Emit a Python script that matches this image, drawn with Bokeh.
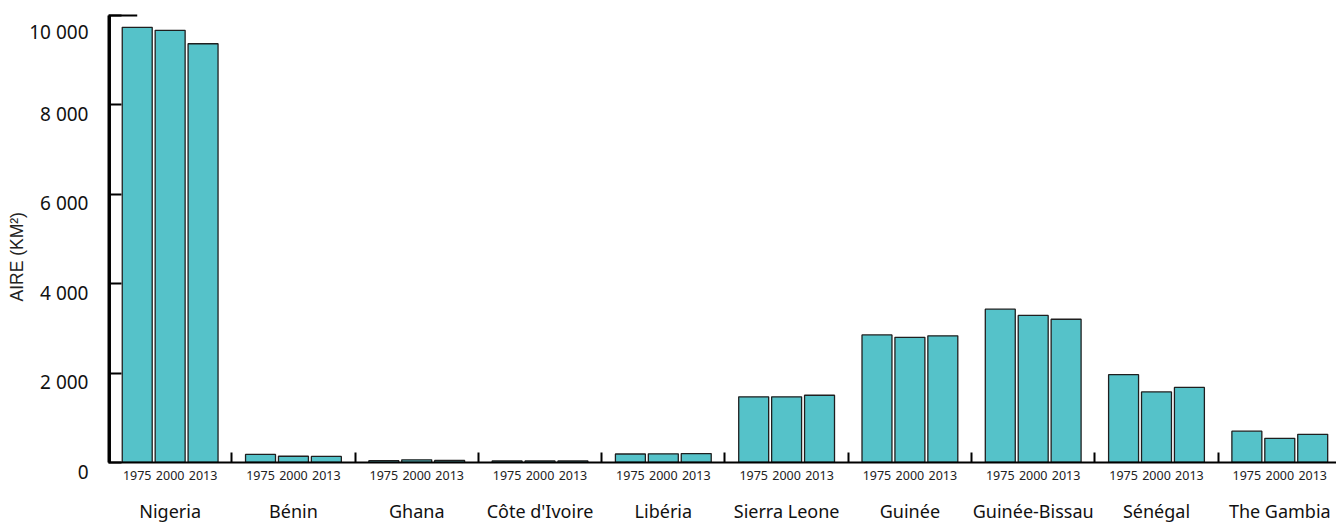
import numpy as np
from bokeh.plotting import figure
from bokeh.models import (ColumnDataSource, Range1d, FixedTicker, LinearAxis,
                          CustomJSTickFormatter, Title)
from bokeh.embed import file_html
from bokeh.resources import INLINE

countries = ["Nigeria", "Bénin", "Ghana", "Côte d'Ivoire", "Libéria", "Sierra Leone",
             "Guinée", "Guinée-Bissau", "Sénégal", "The Gambia"]
years = ["1975", "2000", "2013"]
v1975 = [9735, 180, 40, 35, 190, 1470, 2855, 3430, 1965, 700]
v2000 = [9668, 140, 60, 35, 195, 1470, 2800, 3290, 1580, 540]
v2013 = [9368, 135, 45, 35, 200, 1505, 2835, 3205, 1680, 630]
series = [v1975, v2000, v2013]
ytick_values = [0, 2000, 4000, 6000, 8000, 10000]
ytick_labels = ["0", "2 000", "4 000", "6 000", "8 000", "10 000"]
ylabel = "AIRE (KM²)"

FONT = "Noto Sans"
BAR = "#55C2C9"
PITCH = 0.267   # dodge between bars within a group (group width = 1)
BW = 0.243

p = figure(width=1336, height=525, output_backend="svg", toolbar_location=None,
           x_range=Range1d(0, 9.96), y_range=Range1d(0, 10336),
           min_border_left=108, min_border_right=0, min_border_top=0,
           x_axis_type=None, y_axis_type=None)
p.outline_line_color = None
p.xgrid.visible = False
p.ygrid.visible = False

gidx = np.arange(len(countries))
xs, tops = [], []
for k, vals in enumerate(series):
    xs.extend(list(gidx + 0.5 + (k - 1) * PITCH))
    tops.extend(vals)
src = ColumnDataSource(dict(x=xs, top=tops))
p.vbar(x="x", top="top", bottom=0, width=BW, source=src,
       fill_color=BAR, line_color="#1f1f1f", line_width=1.3)

# value-axis line drawn just inside the frame, and its top end
ymax = ytick_values[-1]
edge = 0.012
p.segment(x0=[edge], y0=[0], x1=[edge], y1=[ymax], line_color="black", line_width=2)
p.segment(x0=[0], y0=[ymax], x1=[0.5 - PITCH], y1=[ymax],
          line_color="black", line_width=2)

# y axis: labels hang just below their ticks
yax = LinearAxis(ticker=FixedTicker(ticks=ytick_values),
                 major_label_overrides={v: "\n" + s for v, s in zip(ytick_values, ytick_labels)},
                 bounds=(0, ymax))
yax.axis_line_color = "black"
yax.axis_line_width = 2
yax.major_tick_in = 13
yax.major_tick_out = 0
yax.major_tick_line_width = 2
yax.minor_tick_line_color = None
yax.major_label_standoff = 20
yax.major_label_text_font = FONT
yax.major_label_text_font_size = "19px"
yax.major_label_text_line_height = 0.7
yax.major_label_text_color = "#111111"
p.add_layout(yax, "left")

# vertical axis title, starting low like the original
ytitle = Title(text=ylabel, align="left", offset=161, standoff=0,
               text_font="Liberation Sans", text_font_size="17.5px",
               text_font_style="normal", text_color="#222222")
p.add_layout(ytitle, "left")

# year axis with group separator ticks
bar_centers = sorted(xs)
seps = list(gidx[1:].astype(float))
xax = LinearAxis(ticker=FixedTicker(ticks=bar_centers, minor_ticks=seps),
                 formatter=CustomJSTickFormatter(args=dict(years=years),
                                                 code="return years[index % 3];"))
xax.axis_line_color = "black"
xax.axis_line_width = 2
xax.major_tick_line_color = None
xax.minor_tick_in = 10
xax.minor_tick_out = 0
xax.minor_tick_line_width = 2
xax.minor_tick_line_color = "black"
xax.major_label_standoff = 2
xax.major_label_text_font = FONT
xax.major_label_text_font_size = "12.5px"
xax.major_label_text_color = "#222222"
p.add_layout(xax, "below")

# country axis
cax = LinearAxis(ticker=FixedTicker(ticks=list(gidx + 0.5)),
                 formatter=CustomJSTickFormatter(args=dict(names=countries),
                                                 code="return names[index];"))
cax.axis_line_color = None
cax.major_tick_line_color = None
cax.minor_tick_line_color = None
cax.major_label_standoff = 10
cax.major_label_text_font = FONT
cax.major_label_text_font_size = "18px"
cax.major_label_text_color = "#111111"
p.add_layout(cax, "below")

open("out.html", "w").write(file_html(p, INLINE))
